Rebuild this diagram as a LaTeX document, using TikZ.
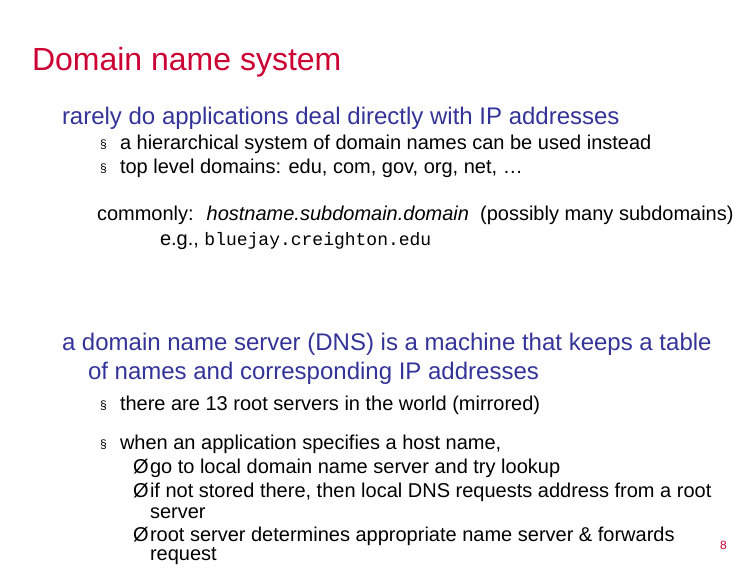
\documentclass[tikz,border=0pt]{standalone}
\usepackage{fontspec}
\setmainfont{Liberation Sans}
\setmonofont{Liberation Mono}
\definecolor{tred}{RGB}{204,0,51}
\definecolor{tblue}{RGB}{51,51,153}
\begin{document}
\begin{tikzpicture}[x=1pt,y=-1pt,
  t/.style={anchor=base west,inner sep=0pt,outer sep=0pt},
  ttl/.style={t,text=tred,font=\fontsize{32}{36}\selectfont},
  lvl/.style={t,text=tblue,font=\fontsize{24}{28}\selectfont},
  sub/.style={t,text=black,font=\fontsize{20}{23}\selectfont},
  bul/.style={t,text=black,font=\fontsize{12}{14}\selectfont}]
\useasboundingbox (0,0) rectangle (756,576);
\node[ttl] (title) at (32,70) {Domain name system};
\node[lvl] (l1) at (62,124) {rarely do applications deal directly with IP addresses};
\node[bul] (b1) at (100,148) {§};
\node[sub] (s1) at (120,149) {a hierarchical system of domain names can be used instead};
\node[bul] (b2) at (100,172) {§};
\node[sub] (s2) at (120,173) {top level domains: edu, com, gov, org, net, …};
\node[sub] (c1) at (97,220) {commonly: \ \textit{hostname.subdomain.domain} \ (possibly many subdomains)};
\node[sub] (c2) at (160,245) {e.g., {\ttfamily\fontsize{18}{21}\selectfont bluejay.creighton.edu}};
\node[lvl] (l2) at (62,350) {a domain name server (DNS) is a machine that keeps a table};
\node[lvl] (l2b) at (88,379) {of names and corresponding IP addresses};
\node[bul] (b3) at (100,409) {§};
\node[sub] (s3) at (120,410) {there are 13 root servers in the world (mirrored)};
\node[bul] (b4) at (100,448) {§};
\node[sub] (s4) at (120,449) {when an application specifies a host name,};
\node[sub] (a1) at (133,473) {Ø};
\node[sub] (t1) at (150,473) {go to local domain name server and try lookup};
\node[sub] (a2) at (133,497) {Ø};
\node[sub] (t2) at (150,497) {if not stored there, then local DNS requests address from a root};
\node[sub] (t2b) at (150,518) {server};
\node[sub] (a3) at (133,541) {Ø};
\node[sub] (t3) at (150,541) {root server determines appropriate name server \& forwards};
\node[sub] (t3b) at (150,560) {request};
\node[t,text=tred,font=\fontsize{12}{14}\selectfont] (pg) at (720,549) {8};
\end{tikzpicture}
\end{document}
